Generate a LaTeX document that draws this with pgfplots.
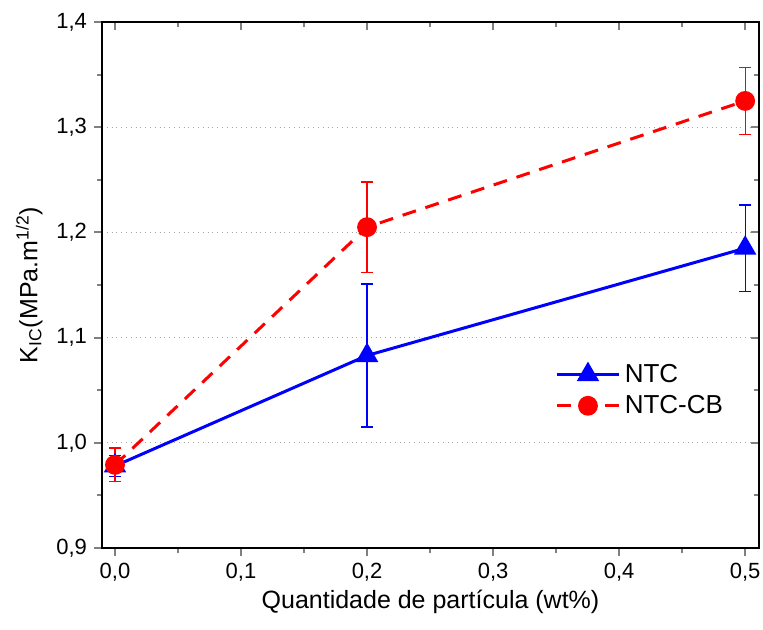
\documentclass[border=0pt]{standalone}
\usepackage{fontspec}
\setmainfont{Liberation Sans}
\usepackage{pgfplots}
\pgfplotsset{compat=1.18}

\definecolor{ntc}{RGB}{0,0,255}
\definecolor{ntccb}{RGB}{255,0,0}

\pgfplotsset{
  kic/.style={
    scale only axis, width=328.5pt, height=263pt,
    xmin=-0.0103, xmax=0.511, ymin=0.9, ymax=1.4,
    xtick={0,0.1,...,0.5}, ytick={0.9,1.0,...,1.4},
    minor xtick={0.05,0.15,...,0.45}, minor ytick={0.95,1.05,...,1.35},
    axis line style={line width=1pt},
    major tick length=4pt, minor tick length=2.5pt,
    tick style={line width=1pt},
  }
}

\begin{document}
\begin{tikzpicture}
\begin{axis}[
  kic, name=main,
  xtick pos=bottom, ytick pos=left, tick align=outside,
  ymajorgrids, grid style={gray!70, dotted, line width=0.6pt},
  /pgf/number format/.cd, use comma, fixed, fixed zerofill, precision=1, assume math mode=true,
  /pgfplots/.cd,
  tick label style={font=\fontsize{11}{13}\selectfont},
  xlabel={Quantidade de partícula (wt\%)},
  ylabel={K\textsubscript{IC}(MPa.m\textsuperscript{1/2})},
  label style={font=\fontsize{12.5}{14}\selectfont},
  xlabel style={yshift=2.5pt},
  ylabel style={yshift=0pt},
  legend style={draw=none, fill=none, at={(0.68,0.30)}, anchor=west,
    font=\fontsize{13}{15}\selectfont, row sep=1pt},
  legend cell align=left,
  every axis legend/.append style={legend image code/.code={
    \draw[mark repeat=2,mark phase=2,#1] plot coordinates {(0cm,0cm) (0.55cm,0cm) (1.1cm,0cm)};}},
]
% NTC
\addplot[ntc, line width=1.5pt, mark=triangle*, mark size=5pt,
  error bars/.cd, y dir=both, y explicit,
  error bar style={draw=ntc, line width=0.6pt, solid},
  error mark options={rotate=90, mark size=3pt, line width=0.6pt, draw=ntc}]
  coordinates {
  (0,0.978) +- (0,0.010)
  (0.2,1.083) +- (0,0.068)
  (0.5,1.185) +- (0,0.041)
};
\addlegendentry{NTC}
% NTC-CB
\addplot[ntccb, line width=1.5pt, dash pattern=on 7pt off 5pt, mark=*, mark size=4.2pt,
  mark options={solid},
  error bars/.cd, y dir=both, y explicit,
  error bar style={draw=ntccb, line width=0.6pt, solid},
  error mark options={rotate=90, mark size=3pt, line width=0.6pt, solid, draw=ntccb}]
  coordinates {
  (0,0.979) +- (0,0.016)
  (0.2,1.205) +- (0,0.043)
  (0.5,1.325) +- (0,0.032)
};
\addlegendentry{NTC-CB}
\end{axis}
\begin{axis}[
  kic,
  xtick pos=top, ytick pos=right, tick align=inside,
  xticklabels={}, yticklabels={},
]
\end{axis}
\pgfresetboundingbox
\path (main.south west) ++(-51pt,-40.5pt) rectangle ++(381.5pt,314.5pt);
\end{tikzpicture}
\end{document}
